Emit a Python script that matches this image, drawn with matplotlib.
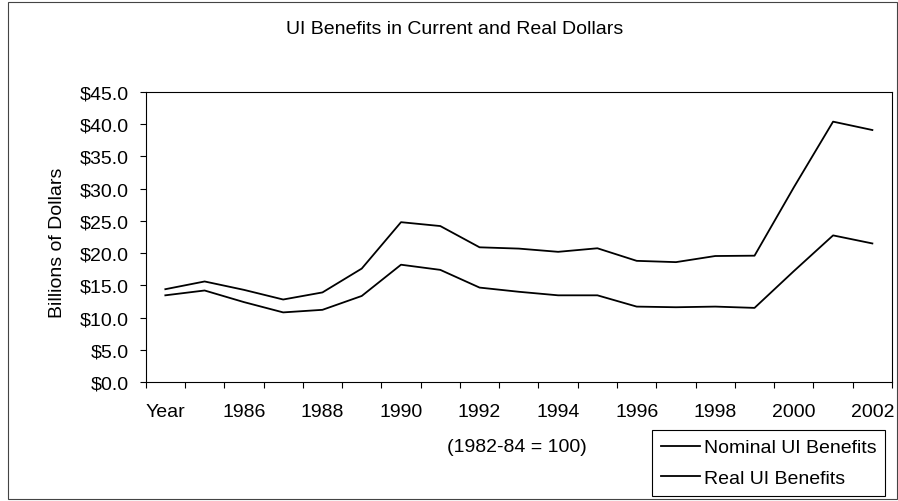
import matplotlib
matplotlib.use("Agg")
from matplotlib import pyplot as plt
from matplotlib.patches import Rectangle
from matplotlib.ticker import FixedLocator, FuncFormatter

plt.rcParams['font.family'] = ['Liberation Sans', 'DejaVu Sans']

# categories as they sit in the sheet (first row is labelled "Year")
years = ["Year", "1985", "1986", "1987", "1988", "1989", "1990", "1991", "1992",
         "1993", "1994", "1995", "1996", "1997", "1998", "1999", "2000", "2001", "2002"]
# billions of dollars
nominal = [14.4, 15.6, 14.3, 12.8, 13.9, 17.6, 24.8, 24.2, 20.9, 20.7,
           20.2, 20.75, 18.8, 18.6, 19.55, 19.6, 30.2, 40.4, 39.1]
real = [13.45, 14.2, 12.4, 10.8, 11.2, 13.35, 18.2, 17.4, 14.65, 14.0,
        13.45, 13.45, 11.7, 11.6, 11.7, 11.5, 17.2, 22.75, 21.5]
y_ticks = [0, 5, 10, 15, 20, 25, 30, 35, 40, 45]

fs = 14
W, H = 898, 502
fig = plt.figure(figsize=(W / 100, H / 100), dpi=100)
ax = fig.add_axes([145.7 / W, (H - 383) / H, (892 - 145.7) / W, 290 / H])

x = list(range(len(years)))
ax.plot(x, nominal, color='black', linewidth=1.3, label="Nominal UI Benefits")
ax.plot(x, real, color='black', linewidth=1.3, label="Real UI Benefits")

ax.set_xlim(-0.5, len(years) - 0.5)
ax.set_ylim(0, 45)

# ticks between categories, labels on every other category
ax.xaxis.set_major_locator(FixedLocator([i - 0.5 for i in range(len(years) + 1)]))
ax.xaxis.set_major_formatter(FuncFormatter(lambda v, p: ""))
ax.xaxis.set_minor_locator(FixedLocator(x[::2]))
ax.set_xticklabels(years[::2], minor=True)
ax.tick_params(axis='x', which='major', direction='out', length=4.3, width=0.8)
ax.tick_params(axis='x', which='minor', length=0, pad=15, labelsize=fs)

ax.set_yticks(y_ticks)
ax.yaxis.set_major_formatter(FuncFormatter(lambda v, p: "$%.1f" % v))
ax.tick_params(axis='y', direction='out', length=4.3, width=0.8, pad=8, labelsize=fs)

for s in ax.spines.values():
    s.set_linewidth(0.8)

fig.text(455 / W, 1 - 30 / H, "UI Benefits in Current and Real Dollars",
         ha='center', va='center', fontsize=fs)
fig.text(58 / W, 1 - 243 / H, "Billions of Dollars", rotation=90,
         ha='center', va='center', fontsize=fs)
fig.text(517 / W, 1 - 448 / H, "(1982-84 = 100)", ha='center', va='center', fontsize=fs)

leg = ax.legend(loc='upper right', bbox_to_anchor=(0.9906, -0.1655), fontsize=fs,
                frameon=True, fancybox=False, edgecolor='black', framealpha=1,
                handlelength=2.0, handletextpad=0.2, labelspacing=0.66,
                borderpad=0.45, borderaxespad=0)
leg.get_frame().set_linewidth(0.8)

# chart area border
fig.patches.append(Rectangle((8 / W, 2 / H), 889 / W, 497 / H, transform=fig.transFigure,
                             fill=False, edgecolor='#444444', linewidth=0.8))

fig.savefig("out.png", dpi=100)
